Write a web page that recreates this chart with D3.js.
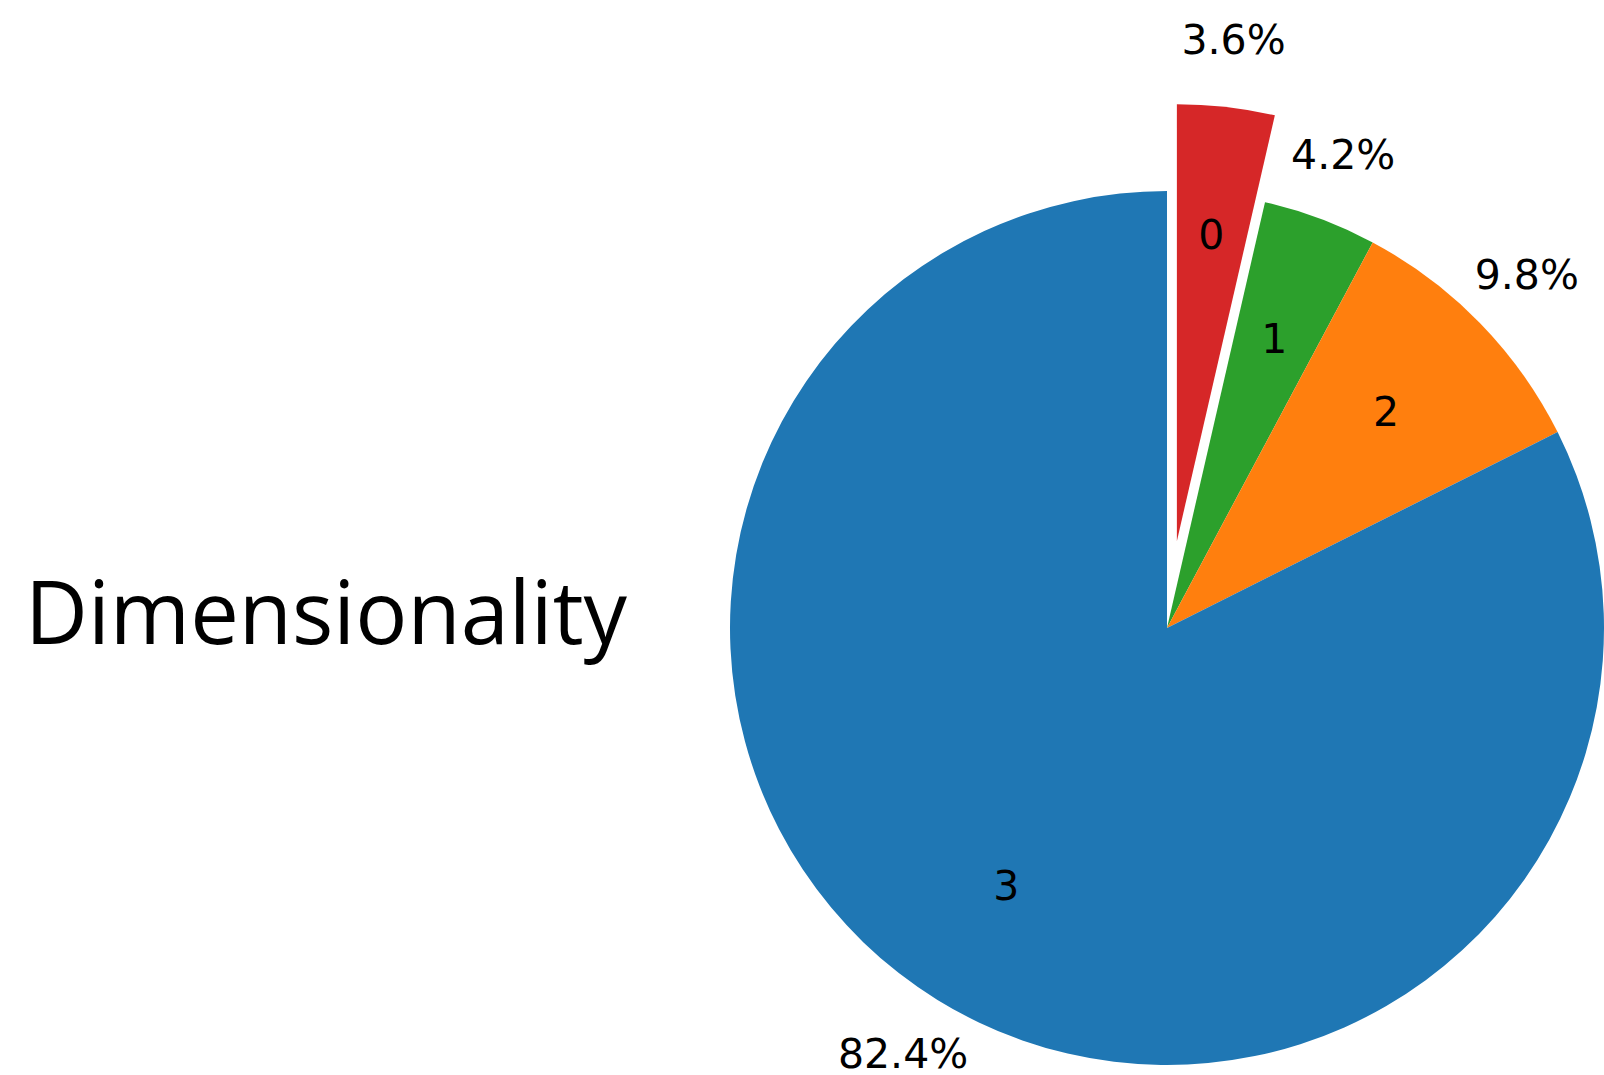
<!DOCTYPE html>
<html>
<head>
<meta charset="utf-8">
<script src="https://cdn.jsdelivr.net/npm/d3@7"></script>
<style>
  html, body { margin: 0; padding: 0; background: #fff; }
  svg { display: block; }
</style>
</head>
<body>
<svg id="chart" width="1604" height="1075"></svg>
<script>
// Share of items by dimensionality
const categories = ["0", "1", "2", "3"];
const shares = [3.6, 4.2, 9.8, 82.4];
const explodeBy = [0.2, 0, 0, 0];
const sliceColors = ["#d62728", "#2ca02c", "#ff7f0e", "#1f77b4"];
const titleText = "Dimensionality";

const W = 1604, H = 1075;
const cx = 1167, cy = 628, R = 437;
const labelDist = 0.7, pctDist = 1.15;
const fontPx = 41;

const svg = d3.select("#chart");

const pie = d3.pie().sort(null).value(d => d.value).startAngle(0).endAngle(2 * Math.PI);
const arcs = pie(categories.map((c, i) => ({ name: c, value: shares[i], explode: explodeBy[i], color: sliceColors[i] })));
const arc = d3.arc().innerRadius(0).outerRadius(R);

const g = svg.append("g").attr("transform", `translate(${cx},${cy})`);

// point at radius r along angle a (clockwise from 12 o'clock)
const polar = (a, r) => [r * Math.sin(a), -r * Math.cos(a)];

const slice = g.selectAll("g.slice").data(arcs).enter().append("g")
  .attr("class", "slice")
  .attr("transform", d => {
    const mid = (d.startAngle + d.endAngle) / 2;
    const [dx, dy] = polar(mid, d.data.explode * R);
    return `translate(${dx},${dy})`;
  });

slice.append("path")
  .attr("d", arc)
  .attr("fill", d => d.data.color);

// text sits a few px below the anchor so its ink is centred like matplotlib's va=center
const baseShift = 0.29 * fontPx;

slice.append("text")
  .attr("x", d => polar((d.startAngle + d.endAngle) / 2, labelDist * R)[0])
  .attr("y", d => polar((d.startAngle + d.endAngle) / 2, labelDist * R)[1] + baseShift)
  .attr("text-anchor", "middle")
  .attr("font-family", "DejaVu Sans")
  .attr("font-size", fontPx)
  .attr("fill", "#000")
  .text(d => d.data.name);

slice.append("text")
  .attr("x", d => polar((d.startAngle + d.endAngle) / 2, pctDist * R)[0])
  .attr("y", d => polar((d.startAngle + d.endAngle) / 2, pctDist * R)[1] + baseShift)
  .attr("text-anchor", "middle")
  .attr("font-family", "DejaVu Sans")
  .attr("font-size", fontPx)
  .attr("fill", "#000")
  .text(d => d3.format(".1f")(d.data.value) + "%");

// side title
svg.append("text")
  .attr("x", 25)
  .attr("y", 644)
  .attr("font-family", "Open Sans")
  .attr("font-weight", 500)
  .attr("font-size", 88.7)
  .attr("textLength", 602)
  .attr("lengthAdjust", "spacingAndGlyphs")
  .attr("fill", "#000")
  .text(titleText);
</script>
</body>
</html>
